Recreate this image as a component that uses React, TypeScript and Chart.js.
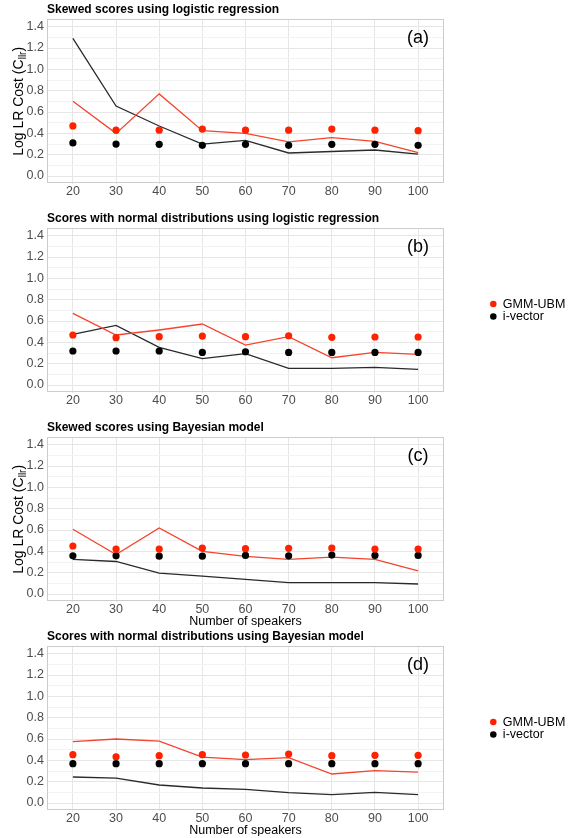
import React, { useEffect, useRef } from 'react';
import { Chart, registerables } from 'chart.js';

Chart.register(...registerables);

const FONT = '"Liberation Sans", Arial, Helvetica, sans-serif';
Chart.defaults.font.family = FONT;

// ---------- data ----------
const speakers = [20, 30, 40, 50, 60, 70, 80, 90, 100];
const yMajorTicks = [0, 0.2, 0.4, 0.6, 0.8, 1.0, 1.2, 1.4];
const yMinorTicks = [0.1, 0.3, 0.5, 0.7, 0.9, 1.1, 1.3];
const seriesNames = ['GMM-UBM', 'i-vector'];
const panelTitles = [
  'Skewed scores using logistic regression',
  'Scores with normal distributions using logistic regression',
  'Skewed scores using Bayesian model',
  'Scores with normal distributions using Bayesian model',
];
const panelLabels = ['(a)', '(b)', '(c)', '(d)'];
const xAxisTitle = 'Number of speakers';
const yAxisTitleMain = 'Log LR Cost (C';
const yAxisTitleSub = 'llr';
const yAxisTitleEnd = ')';

// (a) Skewed scores using logistic regression
const gmmPointsA = [0.47, 0.43, 0.43, 0.44, 0.43, 0.43, 0.44, 0.43, 0.425];
const ivecPointsA = [0.31, 0.3, 0.297, 0.288, 0.297, 0.288, 0.297, 0.297, 0.288];
const gmmLineA = [0.7, 0.4, 0.77, 0.425, 0.4, 0.32, 0.36, 0.325, 0.22];
const ivecLineA = [1.29, 0.656, 0.469, 0.3, 0.335, 0.216, 0.23, 0.244, 0.206];

// (b) Scores with normal distributions using logistic regression
const gmmPointsB = [0.469, 0.444, 0.453, 0.459, 0.453, 0.462, 0.447, 0.45, 0.45];
const ivecPointsB = [0.319, 0.319, 0.319, 0.306, 0.312, 0.306, 0.306, 0.306, 0.306];
const gmmLineB = [0.672, 0.469, 0.516, 0.572, 0.375, 0.453, 0.256, 0.306, 0.288];
const ivecLineB = [0.475, 0.559, 0.353, 0.247, 0.294, 0.156, 0.156, 0.166, 0.147];

// (c) Skewed scores using Bayesian model
const gmmPointsC = [0.45, 0.421, 0.421, 0.431, 0.425, 0.428, 0.431, 0.421, 0.421];
const ivecPointsC = [0.358, 0.358, 0.355, 0.355, 0.362, 0.358, 0.365, 0.362, 0.362];
const gmmLineC = [0.607, 0.371, 0.62, 0.4, 0.352, 0.324, 0.346, 0.324, 0.217];
const ivecLineC = [0.324, 0.305, 0.195, 0.167, 0.138, 0.107, 0.107, 0.107, 0.094];

// (d) Scores with normal distributions using Bayesian model
const gmmPointsD = [0.453, 0.434, 0.444, 0.453, 0.45, 0.459, 0.444, 0.447, 0.447];
const ivecPointsD = [0.369, 0.369, 0.369, 0.369, 0.369, 0.369, 0.369, 0.369, 0.369];
const gmmLineD = [0.575, 0.6, 0.581, 0.431, 0.406, 0.425, 0.272, 0.303, 0.29];
const ivecLineD = [0.244, 0.234, 0.169, 0.141, 0.128, 0.097, 0.078, 0.1, 0.078];

const panelData = [
  { gmmPoints: gmmPointsA, ivecPoints: ivecPointsA, gmmLine: gmmLineA, ivecLine: ivecLineA },
  { gmmPoints: gmmPointsB, ivecPoints: ivecPointsB, gmmLine: gmmLineB, ivecLine: ivecLineB },
  { gmmPoints: gmmPointsC, ivecPoints: ivecPointsC, gmmLine: gmmLineC, ivecLine: ivecLineC },
  { gmmPoints: gmmPointsD, ivecPoints: ivecPointsD, gmmLine: gmmLineD, ivecLine: ivecLineD },
];

// ---------- layout / style ----------
const W = 571;
const PLOT_LEFT = 47;
const PLOT_RIGHT = 444;
const LEGEND_GAP = 46;
const AREA_BOTTOM = 183.5;
const layouts = [
  { top: 0, height: 209, yTitle: true, xTitle: false, legend: false },
  { top: 209, height: 209, yTitle: false, xTitle: false, legend: true },
  { top: 418, height: 209, yTitle: true, xTitle: true, legend: false },
  { top: 627, height: 209, yTitle: false, xTitle: true, legend: true },
];
const RED = '#ff2200';
const RED_LINE = '#f4442e';
const BLACK = '#000000';
const DARK_LINE = '#2a2a2a';
const GRID_MAJOR = '#e6e6e6';
const GRID_MINOR = '#f3f3f3';
const TICK = '#4d4d4d';
const BORDER = '#cccccc';

const isMajor = (v: number) => yMajorTicks.some((t) => Math.abs(t - v) < 1e-9);

const panelBorderPlugin = {
  id: 'panelBorder',
  afterDatasetsDraw(chart: any) {
    const { ctx, chartArea } = chart;
    ctx.save();
    ctx.strokeStyle = BORDER;
    ctx.lineWidth = 1;
    ctx.strokeRect(
      Math.round(chartArea.left) + 0.5,
      Math.round(chartArea.top) + 0.5,
      Math.round(chartArea.right - chartArea.left) - 1,
      Math.round(chartArea.bottom - chartArea.top) - 1
    );
    ctx.restore();
  },
};

const panelLabelPlugin = {
  id: 'panelLabel',
  afterDatasetsDraw(chart: any, _args: any, opts: any) {
    const { ctx, scales } = chart;
    ctx.save();
    ctx.font = `${opts.size}px ${FONT}`;
    ctx.fillStyle = '#000';
    ctx.textAlign = 'center';
    ctx.textBaseline = 'middle';
    ctx.fillText(opts.text, scales.x.getPixelForValue(opts.x), scales.y.getPixelForValue(opts.y));
    ctx.restore();
  },
};

const yTitlePlugin = {
  id: 'yTitle',
  afterDraw(chart: any, _args: any, opts: any) {
    if (!opts.display) return;
    const { ctx, chartArea } = chart;
    const cy = (chartArea.top + chartArea.bottom) / 2;
    const size = opts.size;
    const mainFont = `${size}px ${FONT}`;
    const subFont = `${size * 0.72}px ${FONT}`;
    ctx.save();
    ctx.translate(opts.x, cy);
    ctx.rotate(-Math.PI / 2);
    ctx.font = mainFont;
    const w1 = ctx.measureText(yAxisTitleMain).width;
    const w3 = ctx.measureText(yAxisTitleEnd).width;
    ctx.font = subFont;
    const w2 = ctx.measureText(yAxisTitleSub).width;
    let x = -(w1 + w2 + w3) / 2;
    ctx.fillStyle = '#000';
    ctx.textAlign = 'left';
    ctx.textBaseline = 'middle';
    ctx.font = mainFont;
    ctx.fillText(yAxisTitleMain, x, 0);
    x += w1;
    ctx.font = subFont;
    ctx.fillText(yAxisTitleSub, x, size * 0.3);
    x += w2;
    ctx.font = mainFont;
    ctx.fillText(yAxisTitleEnd, x, 0);
    ctx.restore();
  },
};

function Panel({ index }: { index: number }) {
  const ref = useRef<HTMLCanvasElement>(null);
  const L = layouts[index];
  useEffect(() => {
    const canvas = ref.current!;
    const d = panelData[index];
    const toXY = (vals: number[]) => speakers.map((x, i) => ({ x, y: vals[i] }));
    const padRight = L.legend ? 0 : W - PLOT_RIGHT;
    const legendMax = W - PLOT_RIGHT - LEGEND_GAP;

    const scales: any = {
      x: {
        type: 'linear',
        min: 14,
        max: 106,
        afterBuildTicks: (s: any) => {
          s.ticks = speakers.map((v) => ({ value: v }));
        },
        afterFit: (s: any) => {
          s.height = L.height - AREA_BOTTOM;
        },
        grid: { color: GRID_MAJOR, lineWidth: 1, drawTicks: false },
        border: { display: false },
        ticks: {
          padding: 1,
          color: TICK,
          autoSkip: false,
          maxRotation: 0,
          font: { size: 12.5, family: FONT },
          callback: (v: any) => String(v),
        },
        title: {
          display: L.xTitle,
          text: xAxisTitle,
          color: '#000',
          font: { size: 12.5, family: FONT, lineHeight: 0.8 },
          padding: 0,
        },
      },
      y: {
        type: 'linear',
        min: -0.07,
        max: 1.47,
        afterBuildTicks: (s: any) => {
          s.ticks = [...yMajorTicks, ...yMinorTicks].sort((a, b) => a - b).map((v) => ({ value: v }));
        },
        afterFit: (s: any) => {
          s.width = PLOT_LEFT;
        },
        grid: {
          color: (c: any) => (isMajor(c.tick.value) ? GRID_MAJOR : GRID_MINOR),
          lineWidth: 1,
          drawTicks: false,
        },
        border: { display: false },
        ticks: {
          padding: 3,
          color: TICK,
          autoSkip: false,
          font: { size: 12.5, family: FONT },
          callback: (v: any) => (isMajor(v) ? Number(v).toFixed(1) : ''),
        },
      },
    };
    if (L.legend) {
      scales.yR = {
        type: 'linear',
        position: 'right',
        display: true,
        grid: { display: false },
        border: { display: false },
        ticks: { display: false },
        afterFit: (s: any) => {
          s.width = LEGEND_GAP;
        },
      };
    }

    const chart = new Chart(canvas, {
      type: 'line',
      data: {
        datasets: [
          {
            label: seriesNames[0],
            data: toXY(d.gmmPoints),
            showLine: false,
            pointRadius: 3.6,
            pointBorderWidth: 0,
            pointBackgroundColor: RED,
            backgroundColor: RED,
            borderColor: RED,
          },
          {
            label: seriesNames[1],
            data: toXY(d.ivecPoints),
            showLine: false,
            pointRadius: 3.6,
            pointBorderWidth: 0,
            pointBackgroundColor: BLACK,
            backgroundColor: BLACK,
            borderColor: BLACK,
          },
          {
            label: seriesNames[0] + ' line',
            data: toXY(d.gmmLine),
            pointRadius: 0,
            borderColor: RED_LINE,
            borderWidth: 1.3,
            tension: 0,
            fill: false,
          },
          {
            label: seriesNames[1] + ' line',
            data: toXY(d.ivecLine),
            pointRadius: 0,
            borderColor: DARK_LINE,
            borderWidth: 1.3,
            tension: 0,
            fill: false,
          },
        ] as any,
      },
      options: {
        responsive: false,
        animation: false,
        devicePixelRatio: 1,
        events: [],
        layout: { padding: { left: 0, right: padRight, top: 0, bottom: 0 }, autoPadding: false } as any,
        scales,
        plugins: {
          legend: {
            display: L.legend,
            position: 'right',
            fullSize: false,
            maxWidth: legendMax,
            labels: {
              usePointStyle: true,
              boxWidth: 6.6,
              boxHeight: 4.6,
              padding: 0,
              color: '#000',
              font: { size: 12.5, family: FONT },
              filter: (item: any) => item.datasetIndex < 2,
            },
          },
          title: {
            display: true,
            text: panelTitles[index],
            align: 'start',
            fullSize: false,
            color: '#000',
            font: { size: 12, weight: 'bold', family: FONT, lineHeight: 1.2 },
            padding: { top: 2.8, bottom: 2 },
          },
          tooltip: { enabled: false },
          panelLabel: { text: panelLabels[index], x: 100, y: 1.29, size: 18 },
          yTitle: { display: L.yTitle, x: 19, size: 14 },
        } as any,
      },
      plugins: [panelBorderPlugin, panelLabelPlugin, yTitlePlugin],
    });
    return () => chart.destroy();
  }, [index]);

  return (
    <canvas
      ref={ref}
      width={W}
      height={L.height}
      style={{ position: 'absolute', left: 0, top: L.top, width: W, height: L.height, display: 'block' }}
    />
  );
}

export default function App() {
  return (
    <div style={{ position: 'absolute', left: 0, top: 0, width: W, height: 838, background: '#ffffff' }}>
      {layouts.map((_, i) => (
        <Panel key={i} index={i} />
      ))}
    </div>
  );
}
